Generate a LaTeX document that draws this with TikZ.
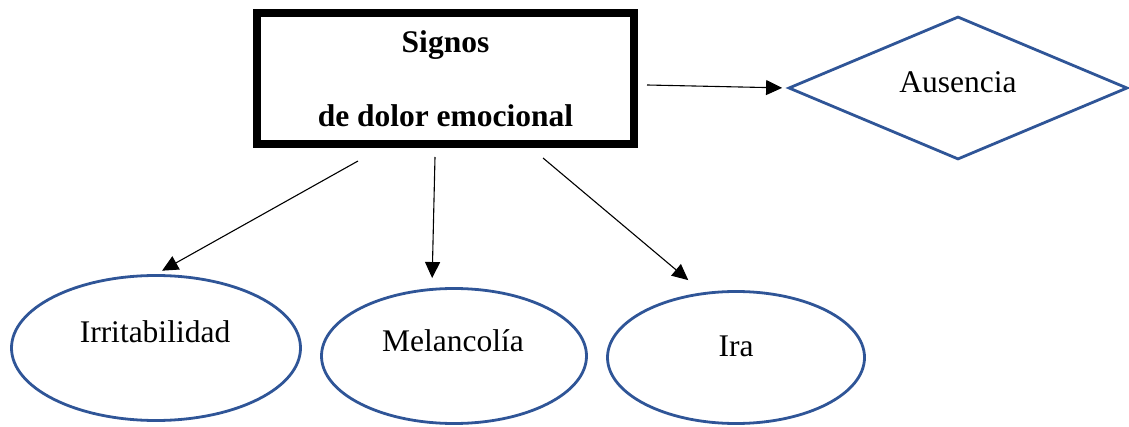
\documentclass[tikz,border=0pt]{standalone}
\usepackage{fontspec}
\setmainfont{Liberation Serif}
\usetikzlibrary{shapes.geometric,arrows.meta}
\definecolor{ol}{HTML}{2F5597}
\begin{document}
\begin{tikzpicture}[x=1pt,y=-1pt,
 shp/.style={draw=ol,line width=2.8pt,inner sep=0pt},
 oval/.style={shp,ellipse},
 lbl/.style={anchor=base,inner sep=0pt,font=\fontsize{31.5}{36}\selectfont},
 arr/.style={line width=1.1pt,-{Triangle[length=16pt,width=15pt]}}
]
\useasboundingbox (0,0) rectangle (1129,427);
\node[draw,line width=8pt,minimum width=377pt,minimum height=131pt,inner sep=0pt,align=center,
      font=\bfseries\fontsize{31.5}{74}\selectfont] (box) at (445.5,78.5) {Signos\\de dolor emocional};
\node[shp,diamond,minimum width=339pt,minimum height=143pt] (aus) at (958,88) {};
\node[lbl] (ausT) at (958,93) {Ausencia};
\node[oval,minimum width=289pt,minimum height=145pt] (irr) at (156,348) {};
\node[lbl] (irrT) at (155,342) {Irritabilidad};
\node[oval,minimum width=265pt,minimum height=135pt] (mel) at (454,356) {};
\node[lbl] (melT) at (453,352) {Melancolía};
\node[oval,minimum width=257pt,minimum height=132pt] (ira) at (736,357.5) {};
\node[lbl] (iraT) at (736,356) {Ira};
\coordinate (s0) at (647,85);
\coordinate (s1) at (358,161);
\coordinate (s2) at (435,157);
\coordinate (s3) at (543,158);
\draw[arr,shorten >=5pt] (s0) -- (aus.west);
\draw[arr,shorten >=7pt] (s1) -- (irr.north);
\draw[arr,shorten >=10pt] (s2) -- (mel.108.7);
\draw[arr,shorten >=19pt] (s3) -- (ira.117.6);
\end{tikzpicture}
\end{document}
